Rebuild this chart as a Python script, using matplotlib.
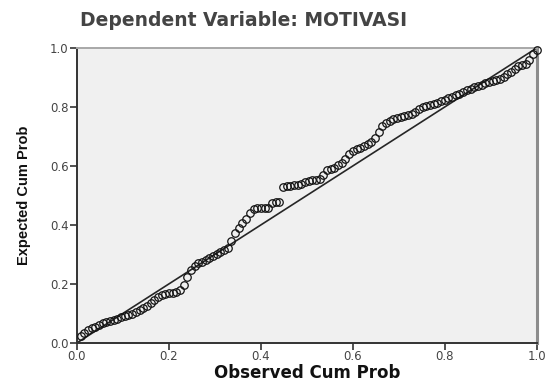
import matplotlib
matplotlib.use("Agg")
import matplotlib.pyplot as plt

#--------------------------------------------------------
# Normal P-P plot of regression standardized residual

observedCumProb = [0.008, 0.016, 0.024, 0.032, 0.040, 0.048, 0.056, 0.064, 0.072, 0.080,
                   0.088, 0.096, 0.104, 0.112, 0.120, 0.128, 0.136, 0.144, 0.152, 0.160,
                   0.168, 0.176, 0.184, 0.192, 0.200, 0.208, 0.216, 0.224, 0.232, 0.240,
                   0.248, 0.256, 0.264, 0.272, 0.280, 0.288, 0.296, 0.304, 0.312, 0.320,
                   0.328, 0.336, 0.344, 0.352, 0.360, 0.368, 0.376, 0.384, 0.392, 0.400,
                   0.408, 0.416, 0.424, 0.432, 0.440, 0.448, 0.456, 0.464, 0.472, 0.480,
                   0.488, 0.496, 0.504, 0.512, 0.520, 0.528, 0.536, 0.544, 0.552, 0.560,
                   0.568, 0.576, 0.584, 0.592, 0.600, 0.608, 0.616, 0.624, 0.632, 0.640,
                   0.648, 0.656, 0.664, 0.672, 0.680, 0.688, 0.696, 0.704, 0.712, 0.720,
                   0.728, 0.736, 0.744, 0.752, 0.760, 0.768, 0.776, 0.784, 0.792, 0.800,
                   0.808, 0.816, 0.824, 0.832, 0.840, 0.848, 0.856, 0.864, 0.872, 0.880,
                   0.888, 0.896, 0.904, 0.912, 0.920, 0.928, 0.936, 0.944, 0.952, 0.960,
                   0.968, 0.976, 0.984, 0.992, 1.000]

expectedCumProb = [0.022, 0.034, 0.044, 0.051, 0.055, 0.061, 0.066, 0.070, 0.074, 0.078,
                   0.082, 0.087, 0.091, 0.095, 0.099, 0.105, 0.111, 0.118, 0.126, 0.135,
                   0.145, 0.155, 0.162, 0.166, 0.168, 0.170, 0.173, 0.180, 0.196, 0.222,
                   0.248, 0.262, 0.270, 0.275, 0.281, 0.287, 0.293, 0.301, 0.309, 0.316,
                   0.322, 0.345, 0.374, 0.389, 0.405, 0.421, 0.440, 0.453, 0.457, 0.457,
                   0.458, 0.459, 0.475, 0.477, 0.479, 0.529, 0.531, 0.532, 0.534, 0.537,
                   0.540, 0.545, 0.548, 0.551, 0.553, 0.555, 0.570, 0.587, 0.590, 0.593,
                   0.602, 0.611, 0.624, 0.641, 0.651, 0.656, 0.661, 0.666, 0.673, 0.681,
                   0.694, 0.716, 0.735, 0.747, 0.753, 0.758, 0.762, 0.766, 0.769, 0.772,
                   0.775, 0.783, 0.792, 0.799, 0.803, 0.807, 0.811, 0.815, 0.819, 0.825,
                   0.830, 0.835, 0.840, 0.845, 0.850, 0.856, 0.861, 0.867, 0.872, 0.876,
                   0.880, 0.884, 0.888, 0.892, 0.896, 0.902, 0.911, 0.920, 0.930, 0.938,
                   0.942, 0.947, 0.959, 0.978, 0.993]

tickValues = [0.0, 0.2, 0.4, 0.6, 0.8, 1.0]
tickLabels = ["0.0", "0.2", "0.4", "0.6", "0.8", "1.0"]

#--------------------------------------------------------

def pp_plot():

    plt.rc('font', family='DejaVu Sans', size=8)

    fig = plt.figure(figsize=(5.46, 3.87), dpi=100)
    fig.patch.set_facecolor('white')

    ax = fig.add_axes([0.141, 0.114, 0.842, 0.762])
    ax.set_facecolor('#f0f0f0')

    # reference diagonal
    ax.plot([0, 1], [0, 1], color='#262626', lw=1.2, zorder=2)

    ax.plot(observedCumProb, expectedCumProb, ls='none', marker='o',
            markersize=5.4, markerfacecolor='none', markeredgecolor='#141414',
            markeredgewidth=0.9, zorder=3, clip_on=False)

    ax.set_xlim(0, 1)
    ax.set_ylim(0, 1)
    ax.set_xticks(tickValues)
    ax.set_xticklabels(tickLabels)
    ax.set_yticks(tickValues)
    ax.set_yticklabels(tickLabels)
    ax.tick_params(direction='out', length=5, width=1.2, color='#333333',
                   labelcolor='#444444', labelsize=8.5, pad=1)
    ax.tick_params(axis='x', pad=0)
    ax.tick_params(top=False, right=False)

    ax.spines['left'].set_color('#333333')
    ax.spines['left'].set_linewidth(1.4)
    ax.spines['bottom'].set_color('#333333')
    ax.spines['bottom'].set_linewidth(1.4)
    ax.spines['right'].set_color('#8c8c8c')
    ax.spines['right'].set_linewidth(2.2)
    ax.spines['top'].set_color('#a8a8a8')
    ax.spines['top'].set_linewidth(1.4)

    ax.set_xlabel("Observed Cum Prob", fontsize=12, fontweight='bold',
                  color='#111111', labelpad=1)
    ax.set_ylabel("Expected Cum Prob", fontsize=10.5, fontweight='bold',
                  family=['Liberation Sans Narrow', 'Liberation Sans', 'DejaVu Sans'],
                  color='#111111', labelpad=14)

    fig.text(0.146, 0.946, "Dependent Variable: MOTIVASI", fontsize=13.5,
             fontweight='bold', color='#444444', ha='left', va='center')

    plt.savefig("out.png", dpi=100)

#--------------------------------------------------------

if __name__ == "__main__":

    pp_plot()
